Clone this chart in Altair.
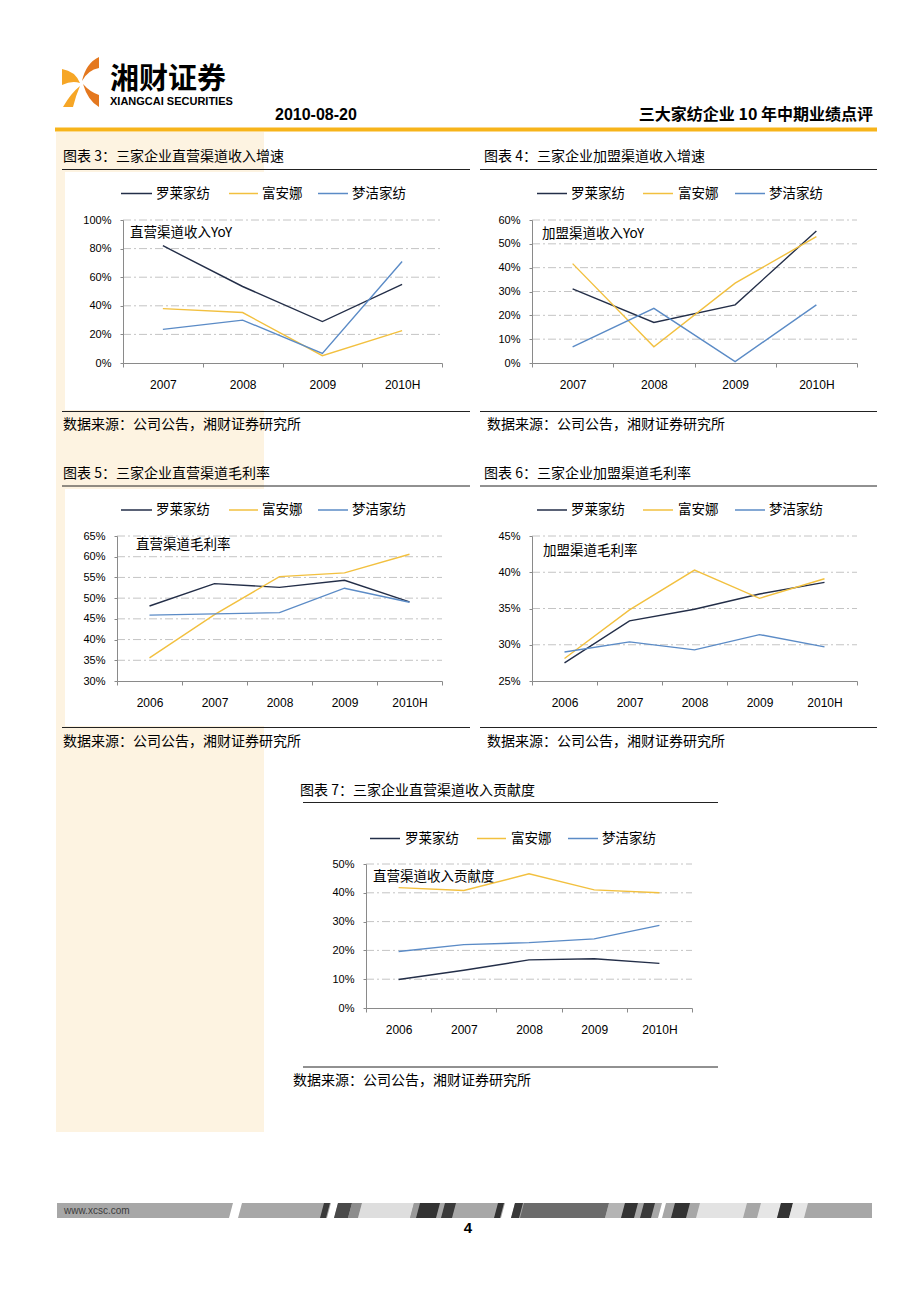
import altair as alt
import pandas as pd

# ---------------- data ----------------
series = ["罗莱家纺", "富安娜", "梦洁家纺"]
series_colors = ["#232E48", "#F2C03F", "#5B8BC6"]

years_4 = ["2007", "2008", "2009", "2010H"]
years_5 = ["2006", "2007", "2008", "2009", "2010H"]

# 图表3 直营渠道收入增速
direct_growth_luolai = [0.82, 0.535, 0.29, 0.55]
direct_growth_fuanna = [0.38, 0.353, 0.051, 0.226]
direct_growth_mengjie = [0.235, 0.30, 0.067, 0.71]
direct_growth_ticks = [0.0, 0.2, 0.4, 0.6, 0.8, 1.0]

# 图表4 加盟渠道收入增速
fr_growth_luolai = [0.311, 0.170, 0.244, 0.554]
fr_growth_fuanna = [0.417, 0.068, 0.335, 0.530]
fr_growth_mengjie = [0.068, 0.229, 0.006, 0.244]
fr_growth_ticks = [0.0, 0.1, 0.2, 0.3, 0.4, 0.5, 0.6]

# 图表5 直营渠道毛利率
direct_gm_luolai = [0.481, 0.535, 0.526, 0.543, 0.491]
direct_gm_fuanna = [0.356, 0.460, 0.552, 0.561, 0.606]
direct_gm_mengjie = [0.459, 0.462, 0.465, 0.524, 0.490]
direct_gm_ticks = [0.30, 0.35, 0.40, 0.45, 0.50, 0.55, 0.60, 0.65]

# 图表6 加盟渠道毛利率
fr_gm_luolai = [0.275, 0.333, 0.349, 0.370, 0.386]
fr_gm_fuanna = [0.281, 0.348, 0.403, 0.364, 0.391]
fr_gm_mengjie = [0.290, 0.304, 0.293, 0.314, 0.297]
fr_gm_ticks = [0.25, 0.30, 0.35, 0.40, 0.45]

# 图表7 直营渠道收入贡献度
share_luolai = [0.099, 0.131, 0.167, 0.171, 0.155]
share_fuanna = [0.418, 0.408, 0.466, 0.410, 0.400]
share_mengjie = [0.196, 0.220, 0.227, 0.240, 0.287]
share_ticks = [0.0, 0.1, 0.2, 0.3, 0.4, 0.5]

titles = ["图表 3：三家企业直营渠道收入增速", "图表 4：三家企业加盟渠道收入增速",
          "图表 5：三家企业直营渠道毛利率", "图表 6：三家企业加盟渠道毛利率",
          "图表 7：三家企业直营渠道收入贡献度"]
notes = ["直营渠道收入YoY", "加盟渠道收入YoY", "直营渠道毛利率", "加盟渠道毛利率", "直营渠道收入贡献度"]
source_text = "数据来源：公司公告，湘财证券研究所"
company_cn = "湘财证券"
company_en = "XIANGCAI SECURITIES"
report_date = "2010-08-20"
report_title = "三大家纺企业 10 年中期业绩点评"
site = "www.xcsc.com"
page_no = "4"

# ---------------- layout helpers ----------------
W, H = 890, 1250
M = 8  # page margin
CJK = "Noto Sans CJK SC"
NUM = "Liberation Sans"
AXIS_C = "#8A8A8A"
GRID_C = "#C4C4C4"

def vx(p):
    return p - M

def vy(p):
    return p - M

one = pd.DataFrame({"k": [0]})


def text(x, y, s, size, weight="normal", align="left", font=CJK, color="#000000"):
    return alt.Chart(one).mark_text(
        text=s, align=align, baseline="middle", font=font, fontSize=size,
        fontWeight=weight, color=color
    ).encode(x=alt.value(vx(x)), y=alt.value(vy(y)))


def hline(x0, x1, y, color, w=1.0):
    return alt.Chart(one).mark_rule(color=color, strokeWidth=w).encode(
        x=alt.value(vx(x0)), x2=alt.value(vx(x1)), y=alt.value(vy(y)))


def rect(x0, y0, x1, y1, color):
    return alt.Chart(one).mark_rect(color=color).encode(
        x=alt.value(vx(x0)), x2=alt.value(vx(x1)),
        y=alt.value(vy(y0)), y2=alt.value(vy(y1)))


def path_shape(cmds, color):
    parts = []
    for c in cmds:
        op = c[0]
        conv = [f"{(n - M):.2f}" for n in c[1:]]
        parts.append(op + " " + " ".join(conv))
    d = " ".join(parts)
    return alt.Chart(one).mark_point(
        shape=d, size=4, filled=True, color=color, opacity=1, strokeWidth=0
    ).encode(x=alt.value(0), y=alt.value(0))


layers = []

# background cream column and white chart boxes
layers.append(rect(56, 132, 264, 1132, "#FDF3E1"))
layers.append(rect(65, 172, 470, 410, "#FFFFFF"))
layers.append(rect(65, 489, 470, 726, "#FFFFFF"))

# header
layers.append(rect(55, 127.5, 877, 131.5, "#F7B41A"))
layers.append(text(110, 79.5, company_cn, 29, weight="bold"))
layers.append(text(110, 101.5, company_en, 11, weight="bold", font=NUM))
layers.append(text(275, 115, report_date, 16, weight="bold", font=NUM))
layers.append(text(873, 115, report_title, 16, weight="bold", align="right"))

# logo
DARK_O = "#E4781F"
LIGHT_O = "#F6A626"
layers.append(path_shape([("M", 99, 57), ("Q", 86, 63, 82, 81), ("Q", 88, 70, 99, 68), ("Z",)], DARK_O))
layers.append(path_shape([("M", 83, 84), ("Q", 88, 101, 99, 107), ("L", 99, 95), ("Q", 90, 92, 83, 84), ("Z",)], DARK_O))
layers.append(path_shape([("M", 62, 69), ("Q", 75, 71, 80, 83), ("Q", 72, 80, 62, 85), ("Z",)], LIGHT_O))
layers.append(path_shape([("M", 80, 86), ("Q", 71, 93, 63, 107), ("L", 73, 107), ("Q", 76, 95, 80, 86), ("Z",)], LIGHT_O))

# footer band
FY0, FY1, SL = 1203, 1218, 4
layers.append(rect(57, FY0, 872, FY1, "#A7A7A7"))
footer_segments = [
    (229, 238, "#FFFFFF"), (320, 326, "#3A3A3A"), (327, 334, "#FFFFFF"), (334, 348, "#4A4A4A"),
    (348, 358, "#8C8C8C"), (358, 410, "#DEDEDE"), (410, 416, "#9A9A9A"), (416, 436, "#333333"),
    (441, 452, "#3A3A3A"), (494, 500, "#333333"), (501, 511, "#FFFFFF"), (511, 519, "#3A3A3A"),
    (520, 605, "#6B6B6B"), (605, 621, "#B4B4B4"), (621, 634, "#333333"), (640, 651, "#3A3A3A"),
    (658, 662, "#FFFFFF"), (671, 686, "#333333"), (696, 743, "#E3E3E3"), (757, 777, "#E6E6E6"),
    (777, 789, "#333333"), (789, 804, "#E6E6E6"),
]
for x0, x1, col in footer_segments:
    layers.append(path_shape([("M", x0, FY1), ("L", x1, FY1), ("L", x1 + SL, FY0),
                              ("L", x0 + SL, FY0), ("Z",)], col))
layers.append(text(64, 1210.5, site, 10, font=NUM, color="#3C3C3C"))
layers.append(text(468, 1228, page_no, 15, weight="bold", align="center", font=NUM))


# ---------------- line charts ----------------
def line_panel(cats, values, ticks, box):
    left, right, top, bottom = box
    rows = []
    for s, vals in zip(series, values):
        for c, v in zip(cats, vals):
            rows.append({"cat": c, "series": s, "v": v})
    df = pd.DataFrame(rows)
    xs = alt.Scale(type="band", domain=cats, range=[vx(left), vx(right)],
                   paddingInner=0, paddingOuter=0)
    ys = alt.Scale(type="linear", domain=[ticks[0], ticks[-1]],
                   range=[vy(bottom), vy(top)], nice=False, zero=False)
    x_axis = alt.Axis(orient="bottom", offset=vy(bottom) - H, title=None, labelAngle=0,
                      labelFont=NUM, labelFontSize=12, labelColor="#000000", labelPadding=12,
                      domainColor=AXIS_C, tickColor=AXIS_C, tickSize=4, tickBand="extent",
                      grid=False, zindex=1)
    y_axis = alt.Axis(orient="left", offset=-vx(left), title=None, values=ticks, format=".0%",
                      labelFont=NUM, labelFontSize=11, labelColor="#000000", labelPadding=9,
                      domainColor=AXIS_C, tickColor=AXIS_C, tickSize=3, grid=False, zindex=1)
    grid = alt.Chart(pd.DataFrame({"t": ticks[1:]})).mark_rule(
        color=GRID_C, strokeWidth=1, strokeDash=[8, 3, 2, 3]
    ).encode(y=alt.Y("t:Q", scale=ys, axis=y_axis),
             x=alt.value(vx(left)), x2=alt.value(vx(right)))
    lines = alt.Chart(df).mark_line(strokeWidth=1.4).encode(
        x=alt.X("cat:N", scale=xs, axis=x_axis, bandPosition=0.5),
        y=alt.Y("v:Q", scale=ys, axis=y_axis),
        color=alt.Color("series:N", scale=alt.Scale(domain=series, range=series_colors), legend=None),
    )
    return alt.layer(grid, lines)


def legend(entries, ly):
    out = []
    for (x0, x1, tx), s, col in zip(entries, series, series_colors):
        out.append(hline(x0, x1, ly, col, 1.5))
        out.append(text(tx, ly, s, 13.5))
    return out


def frame(title, tx, ty, lx0, lx1, line_y, bottom_y, sx, sy):
    return [text(tx, ty, title, 14),
            hline(lx0, lx1, line_y, "#222222", 1),
            hline(lx0, lx1, bottom_y, "#222222", 1),
            text(sx, sy, source_text, 14)]


legend_left = [(121, 152, 156), (229, 258, 262), (318, 348, 352)]
legend_right = [(537, 567, 571), (643, 673, 678), (735, 765, 769)]
legend_mid = [(370, 400, 405), (477, 506, 511), (568, 598, 602)]

# chart 3
layers += frame(titles[0], 63, 157, 62, 470, 169.5, 411.5, 63, 425)
layers += legend(legend_left, 193.5)
layers.append(text(130, 233, notes[0], 13.5))
# chart 4
layers += frame(titles[1], 484, 157, 480, 877, 169.5, 411.5, 487, 425)
layers += legend(legend_right, 193.5)
layers.append(text(542, 234, notes[1], 13.5))
# chart 5
layers += frame(titles[2], 63, 473.5, 62, 470, 486, 727.5, 63, 742)
layers += legend(legend_left, 510)
layers.append(text(136, 545, notes[2], 13.5))
# chart 6
layers += frame(titles[3], 484, 474, 480, 877, 486, 727.5, 487, 742)
layers += legend(legend_right, 510)
layers.append(text(543, 551, notes[3], 13.5))
# chart 7
layers += frame(titles[4], 300, 790.5, 303, 718, 802.5, 1067, 293, 1081)
layers += legend(legend_mid, 838.5)
layers.append(text(373, 877, notes[4], 13.5))

panels = [
    line_panel(years_4, [direct_growth_luolai, direct_growth_fuanna, direct_growth_mengjie],
               direct_growth_ticks, (123, 442, 220, 363)),
    line_panel(years_4, [fr_growth_luolai, fr_growth_fuanna, fr_growth_mengjie],
               fr_growth_ticks, (532, 857, 220, 363)),
    line_panel(years_5, [direct_gm_luolai, direct_gm_fuanna, direct_gm_mengjie],
               direct_gm_ticks, (117, 442, 536, 681)),
    line_panel(years_5, [fr_gm_luolai, fr_gm_fuanna, fr_gm_mengjie],
               fr_gm_ticks, (532, 857, 536, 681)),
    line_panel(years_5, [share_luolai, share_fuanna, share_mengjie],
               share_ticks, (366, 692, 864, 1008)),
]
layers += panels

chart = alt.layer(*layers).resolve_scale(x="independent", y="independent").properties(
    width=W, height=H, padding=0
).configure_view(strokeWidth=0)

chart.save("out.html", embed_options={"renderer": "svg", "actions": False})
